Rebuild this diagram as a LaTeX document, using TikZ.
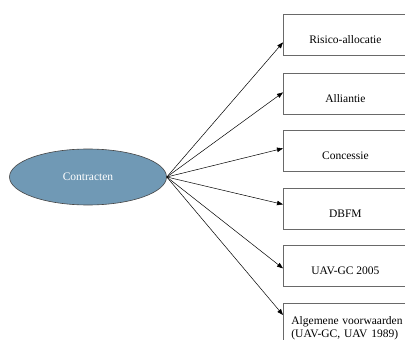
\documentclass[tikz,border=0pt]{standalone}
\usepackage{fontspec}
\setmainfont{Liberation Serif}
\usetikzlibrary{shapes.geometric,arrows.meta}
\definecolor{ellfill}{RGB}{112,153,181}
\definecolor{ellline}{RGB}{70,70,70}
\definecolor{boxline}{RGB}{105,105,105}
\begin{document}
\begin{tikzpicture}[x=1pt,y=-1pt,
  basebox/.style={draw=boxline, line width=0.8pt, minimum width=124pt, anchor=north west, font=\fontsize{11.5}{12.5}\selectfont},
  box/.style={basebox, inner sep=0pt, text height=29.5pt, text depth=11.5pt},
  conn/.style={-{Triangle[length=6pt,width=4.5pt]}, line width=0.5pt}]
\useasboundingbox (0,0) rectangle (405,340);
\clip (0,0) rectangle (405,340);
\node[ellipse, draw=ellline, line width=0.6pt, fill=ellfill, minimum width=157pt, minimum height=56pt, text=white, font=\fontsize{11.5}{13}\selectfont] (c) at (88,177) {Contracten};
\node[box] (b1) at (283,14) {Risico-allocatie};
\node[box] (b2) at (283,73) {Alliantie};
\node[box] (b3) at (283,130) {Concessie};
\node[box] (b4) at (283,188) {DBFM};
\node[box] (b5) at (283,245) {UAV-GC 2005};
\node[basebox, text width=130pt, align=left, inner xsep=8pt, inner ysep=5pt, minimum height=50pt] (b6) at (283,303) {Algemene voorwaarden\\(UAV-GC, UAV 1989)};
\draw[conn] (c.east) -- ([yshift=-7.5pt]b1.west);
\draw[conn] (c.east) -- ([yshift=1.5pt]b2.west);
\draw[conn] (c.east) -- ([yshift=2.5pt]b3.west);
\draw[conn] (c.east) -- ([yshift=4.5pt]b4.west);
\draw[conn] (c.east) -- ([yshift=-2.5pt]b5.west);
\draw[conn] (c.east) -- ([yshift=-12pt]b6.north west);
\end{tikzpicture}
\end{document}
